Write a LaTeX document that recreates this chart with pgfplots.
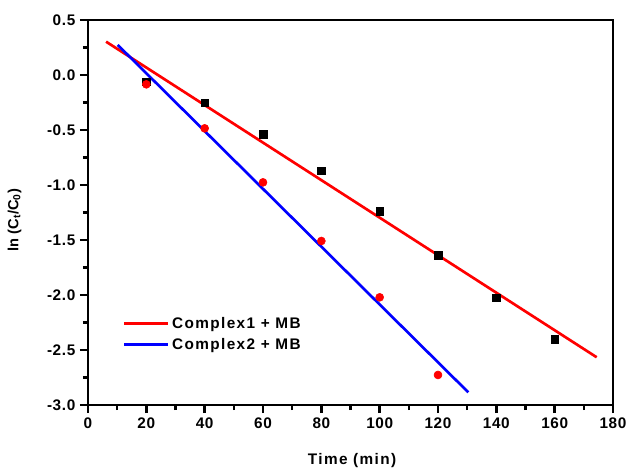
\documentclass[border=0pt]{standalone}
\usepackage{fontspec}
\setmainfont{Liberation Sans}
\newfontfamily\spaced[LetterSpace=4]{Liberation Sans}
\newfontfamily\widesp[LetterSpace=9]{Liberation Sans}
\usepackage{pgfplots}
\pgfplotsset{compat=1.18}
\definecolor{fitred}{RGB}{255,0,0}
\definecolor{fitblue}{RGB}{0,0,255}

\begin{document}
\begin{tikzpicture}
\begin{axis}[
  at={(0,0)}, anchor=south west,
  scale only axis,
  width=393.75pt, height=288.75pt,
  xmin=0, xmax=180, ymin=-3.0, ymax=0.5,
  xtick={0,20,...,180},
  minor xtick={10,30,...,170},
  ytick={-3.0,-2.5,-2.0,-1.5,-1.0,-0.5,0.0,0.5},
  yticklabels={-3.0,-2.5,-2.0,-1.5,-1.0,-0.5,0.0,0.5},
  minor ytick={-2.75,-2.25,-1.75,-1.25,-0.75,-0.25,0.25},
  tick align=outside,
  xtick pos=bottom, ytick pos=left,
  major tick length=6pt, minor tick length=3.75pt,
  every tick/.style={black, line width=1.8pt},
  axis line style={line width=2pt},
  ticklabel style={font=\fontsize{11.5}{13}\selectfont\spaced\bfseries},
  /pgf/number format/assume math mode=true,
  xlabel={Time (min)},
  ylabel={ln (C$_\mathbf{t}$/C$_\mathbf{0}$)},
  xlabel style={font=\fontsize{11.5}{13}\selectfont\widesp\bfseries,
    at={(axis description cs:0.503,-0.143)}, anchor=center},
  ylabel style={font=\fontsize{11}{13}\selectfont\bfseries,
    at={(axis description cs:-0.14,0.48)}, anchor=center},
  legend style={at={(axis cs:10.5,-2.15)}, anchor=north west, draw=none, fill=none,
    font=\fontsize{11.5}{13}\selectfont\widesp\bfseries, row sep=2pt},
  legend cell align=left,
  legend image code/.code={\draw[#1, line width=2pt] (0pt,0pt) -- (33pt,0pt);},
]
\addplot[fitred, line width=2pt] coordinates {(6.2,0.303) (174.4,-2.566)};
\addlegendentry{Complex1 + MB}
\addplot[fitblue, line width=2pt] coordinates {(10.2,0.273) (130.4,-2.885)};
\addlegendentry{Complex2 + MB}
\addplot[only marks, mark=square*, mark size=2.9pt, black, forget plot] coordinates {
  (20,-0.061) (40,-0.252) (60,-0.539) (80,-0.870)
  (100,-1.239) (120,-1.639) (140,-2.024) (160,-2.400)
};
\addplot[only marks, mark=*, mark size=3pt, fitred, forget plot] coordinates {
  (20,-0.085) (40,-0.485) (60,-0.976) (80,-1.509)
  (100,-2.021) (120,-2.727)
};
\end{axis}
\pgfresetboundingbox
\useasboundingbox (-66pt,-48.75pt) rectangle (406.5pt,303.75pt);
\end{tikzpicture}
\end{document}
